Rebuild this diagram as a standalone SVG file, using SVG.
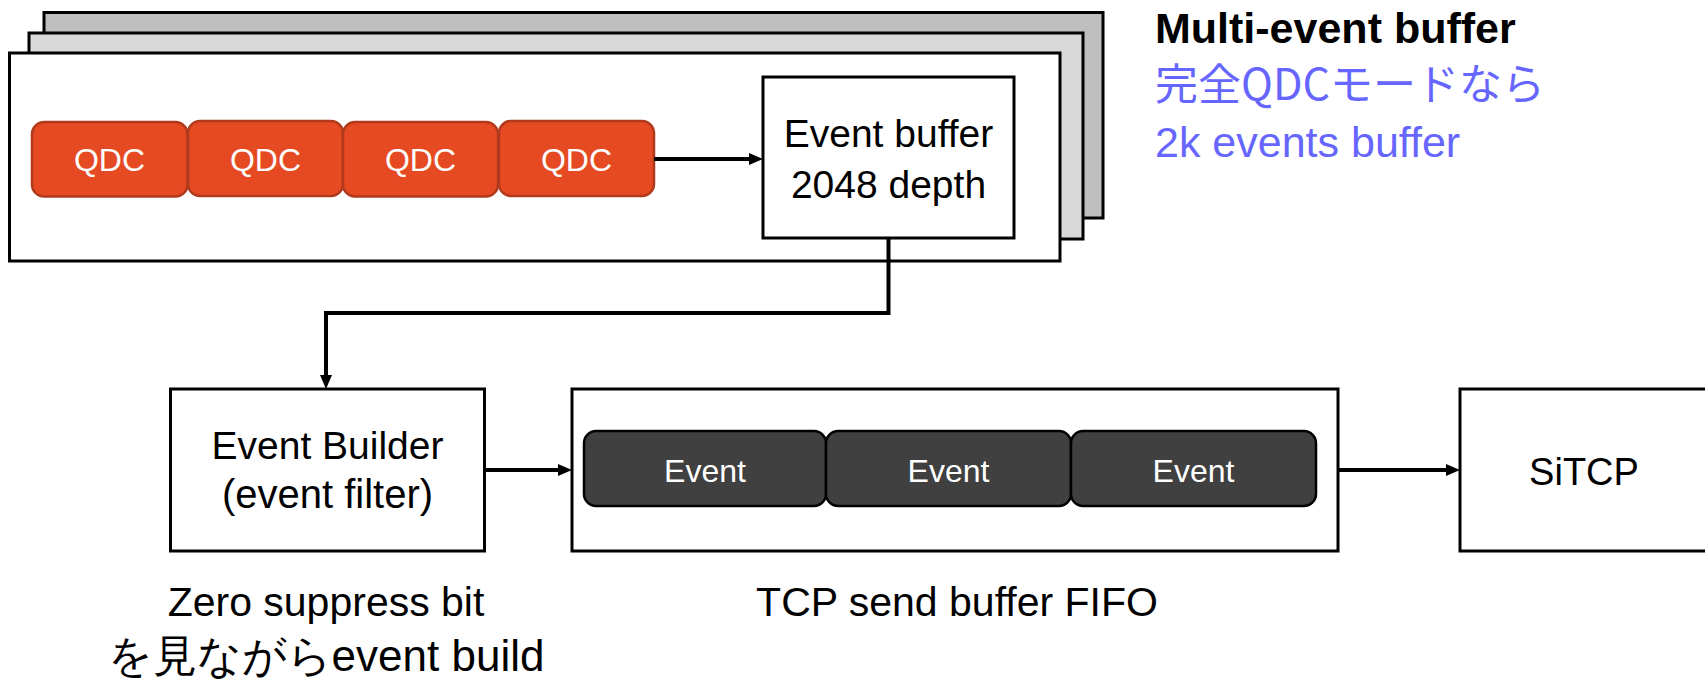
<svg xmlns="http://www.w3.org/2000/svg" width="1705" height="679" viewBox="0 0 1705 679">
  <style>
    .frame { stroke: #000; stroke-width: 3; }
    .box { fill: #fff; stroke: #000; stroke-width: 3; }
    .qdc { fill: #E54A23; stroke: #B23A1C; stroke-width: 2.5; }
    .evt { fill: #404040; stroke: #000; stroke-width: 2.5; }
    .lbl { font-family: "Liberation Sans", Arial, sans-serif; fill: #000; text-anchor: middle; }
    .inner { font-family: "Liberation Sans", Arial, sans-serif; fill: #fff; text-anchor: middle; font-size: 32px; }
    .note { font-family: "Liberation Sans", "Noto Sans CJK JP", sans-serif; }
    .wire { fill: none; stroke: #000; stroke-width: 4; stroke-linejoin: miter; }
  </style>
  <defs>
    <marker id="arrow" viewBox="0 0 14 12" refX="4" refY="6" markerWidth="14" markerHeight="12" markerUnits="userSpaceOnUse" orient="auto">
      <path d="M0,0 L14,6 L0,12 z" fill="#000"/>
    </marker>
  </defs>

  <!-- stacked multi-event buffer frames -->
  <g id="buffer-stack">
    <rect class="frame" x="44" y="12.5" width="1059" height="205.5" fill="#BFBFBF"/>
    <rect class="frame" x="29" y="33" width="1054" height="206" fill="#D9D9D9"/>
    <rect class="frame" x="9.5" y="53" width="1050.5" height="208" fill="#fff"/>
  </g>

  <!-- QDC blocks -->
  <g id="qdc-1">
    <rect class="qdc" x="32" y="122" width="155.5" height="74.5" rx="12"/>
    <text class="inner" x="109.5" y="171">QDC</text>
  </g>
  <g id="qdc-2">
    <rect class="qdc" x="188" y="121" width="155" height="75" rx="12"/>
    <text class="inner" x="265.5" y="171">QDC</text>
  </g>
  <g id="qdc-3">
    <rect class="qdc" x="343" y="122" width="155" height="74.5" rx="12"/>
    <text class="inner" x="420.5" y="171">QDC</text>
  </g>
  <g id="qdc-4">
    <rect class="qdc" x="499" y="121" width="155" height="75" rx="12"/>
    <text class="inner" x="576.5" y="171">QDC</text>
  </g>

  <!-- event buffer -->
  <g id="event-buffer">
    <rect class="box" x="763" y="77" width="251" height="161"/>
    <text class="lbl" x="888.5" y="147" font-size="39">Event buffer</text>
    <text class="lbl" x="888.5" y="198" font-size="39">2048 depth</text>
  </g>

  <!-- multi-event buffer note -->
  <g id="buffer-note">
    <text class="note" x="1155" y="43" font-size="43" font-weight="bold" fill="#000">Multi-event buffer</text>
    <text x="1155" y="100" font-size="43" fill="#6666FF" font-family="'Noto Sans CJK JP', sans-serif">完全QDCモードなら</text>
    <text class="note" x="1155" y="157" font-size="43" fill="#6666FF">2k events buffer</text>
  </g>

  <!-- event builder -->
  <g id="event-builder">
    <rect class="box" x="170.5" y="389" width="314" height="162"/>
    <text class="lbl" x="327.5" y="459" font-size="39">Event Builder</text>
    <text class="lbl" x="327.5" y="508" font-size="40">(event filter)</text>
  </g>
  <g id="builder-note">
    <text class="lbl" x="326" y="616" font-size="41">Zero suppress bit</text>
    <text class="lbl" x="326" y="671" font-size="44" font-family="'Liberation Sans', 'Noto Sans CJK JP', sans-serif">を見ながらevent build</text>
  </g>

  <!-- TCP send buffer FIFO -->
  <g id="tcp-fifo">
    <rect class="box" x="572" y="389" width="766" height="162"/>
    <rect class="evt" x="584" y="431" width="242" height="75" rx="12"/>
    <text class="inner" x="705" y="482" font-size="34">Event</text>
    <rect class="evt" x="826" y="431" width="245" height="75" rx="12"/>
    <text class="inner" x="948.5" y="482" font-size="34">Event</text>
    <rect class="evt" x="1071" y="431" width="245" height="75" rx="12"/>
    <text class="inner" x="1193.5" y="482" font-size="34">Event</text>
  </g>
  <g id="fifo-note">
    <text class="lbl" x="957" y="616" font-size="41">TCP send buffer FIFO</text>
  </g>

  <!-- SiTCP -->
  <g id="sitcp">
    <rect class="box" x="1460" y="389" width="270" height="162"/>
    <text class="lbl" x="1584" y="485" font-size="38">SiTCP</text>
  </g>

  <!-- connectors -->
  <g id="connectors">
    <path class="wire" d="M654,159 H753" marker-end="url(#arrow)"/>
    <path class="wire" d="M888.5,238 V313 H326 V379" marker-end="url(#arrow)"/>
    <path class="wire" d="M484.5,470 H562" marker-end="url(#arrow)"/>
    <path class="wire" d="M1338,470 H1450" marker-end="url(#arrow)"/>
  </g>
</svg>
